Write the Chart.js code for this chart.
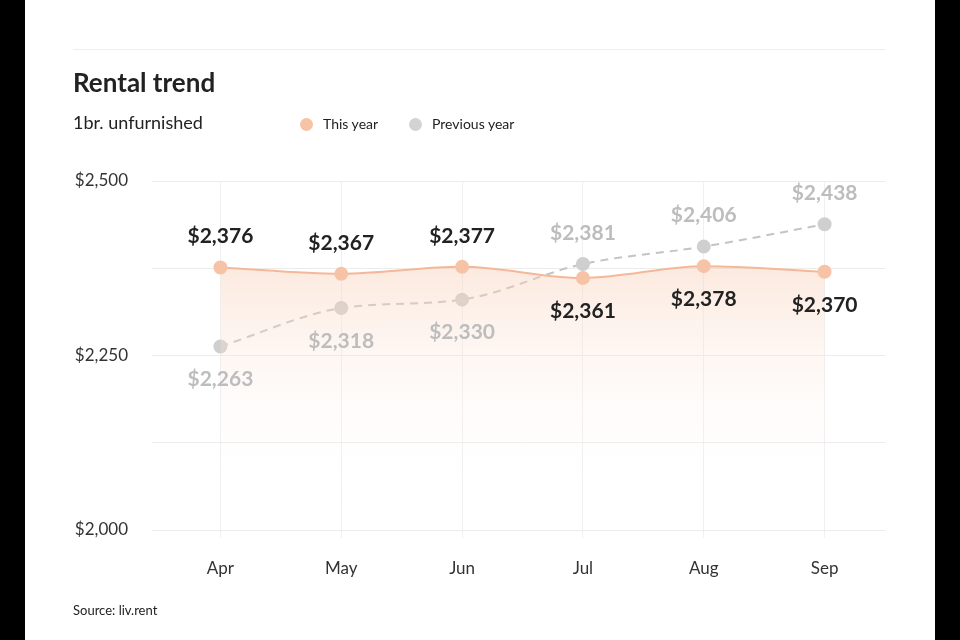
<!DOCTYPE html><html><head><meta charset="utf-8">
<script src="https://cdn.jsdelivr.net/npm/chart.js@4"></script>
<style>
body{margin:0;width:960px;height:640px;background:#000;position:relative;overflow:hidden;font-family:Lato,"Open Sans",sans-serif}
#card{position:absolute;left:25px;top:0;width:910px;height:640px;background:#fff}
#c{position:absolute;left:0;top:0}
.t{position:absolute;color:#222}
</style></head><body>
<div id="card"></div>
<canvas id="c" width="960" height="640"></canvas>
<div style="position:absolute;left:73px;top:49px;width:812px;border-top:1px solid #eee"></div>
<div class="t" style="left:73px;top:66px;font-size:26px;font-weight:bold">Rental trend</div>
<div class="t" style="left:73px;top:111px;font-size:18px">1br. unfurnished</div>
<div class="t" style="left:300px;top:115px;font-size:14px"><span style="display:inline-block;width:13px;height:13px;border-radius:50%;background:#F6C3A6;vertical-align:-2px;margin-right:10px"></span>This year</div>
<div class="t" style="left:409px;top:115px;font-size:14px"><span style="display:inline-block;width:13px;height:13px;border-radius:50%;background:#D3D3D3;vertical-align:-2px;margin-right:10px"></span>Previous year</div>
<div class="t" style="left:73px;top:602px;font-size:13px">Source: liv.rent</div>
<script>
const categories=["Apr","May","Jun","Jul","Aug","Sep"];
const thisYear=[2376,2367,2377,2361,2378,2370];
const prevYear=[2263,2318,2330,2381,2406,2438];
const thisAbove=[true,true,true,false,false,false];
const fmt=v=>"$"+v.toLocaleString("en-US");
const labels={id:"lbl",afterDatasetsDraw(ch){const c=ch.ctx;c.save();c.font="bold 21px Lato";c.textAlign="center";c.textBaseline="middle";
ch.data.datasets.forEach((ds,i)=>{ch.getDatasetMeta(i).data.forEach((p,j)=>{let up=i===0?thisAbove[j]:!thisAbove[j];c.fillStyle=i===0?"#222":"#BDBDBD";c.fillText(fmt(ds.data[j]),p.x,p.y+(up?-31:33));});});c.restore();}};
new Chart(document.getElementById("c"),{type:"line",plugins:[labels],
data:{labels:categories,datasets:[
{data:thisYear,borderColor:"#F4B899",borderWidth:2,pointBackgroundColor:"#F6C3A6",pointBorderColor:"#F6C3A6",pointRadius:6,tension:0.4,cubicInterpolationMode:"monotone",fill:"start",
backgroundColor:c=>{const a=c.chart.chartArea;if(!a)return"transparent";const g=c.chart.ctx.createLinearGradient(0,a.top+80,0,a.bottom-30);g.addColorStop(0,"rgba(248,205,180,0.45)");g.addColorStop(1,"rgba(255,255,255,0)");return g;}},
{data:prevYear,borderColor:"#C4C4C4",borderWidth:2,borderDash:[8,6],pointBackgroundColor:"#CFCFCF",pointBorderColor:"#CFCFCF",pointRadius:6,tension:0.4,cubicInterpolationMode:"monotone",fill:false}]},
options:{responsive:false,animation:false,layout:{padding:{top:181,right:75,left:0,bottom:0}},
plugins:{legend:{display:false},tooltip:{enabled:false}},
scales:{x:{offset:true,grid:{color:"#f0f0f0",offset:false},border:{display:false},afterFit:s=>{s.height=110},ticks:{padding:20,color:"#333",font:{family:"Lato",size:17}}},
y:{min:2000,max:2500,border:{display:false},grid:{color:"#ececec"},afterFit:s=>{s.width=160},ticks:{stepSize:125,padding:24,color:"#333",font:{family:"Lato",size:17},callback:v=>v%250===0?fmt(v):""}}}}});
</script></body></html>
